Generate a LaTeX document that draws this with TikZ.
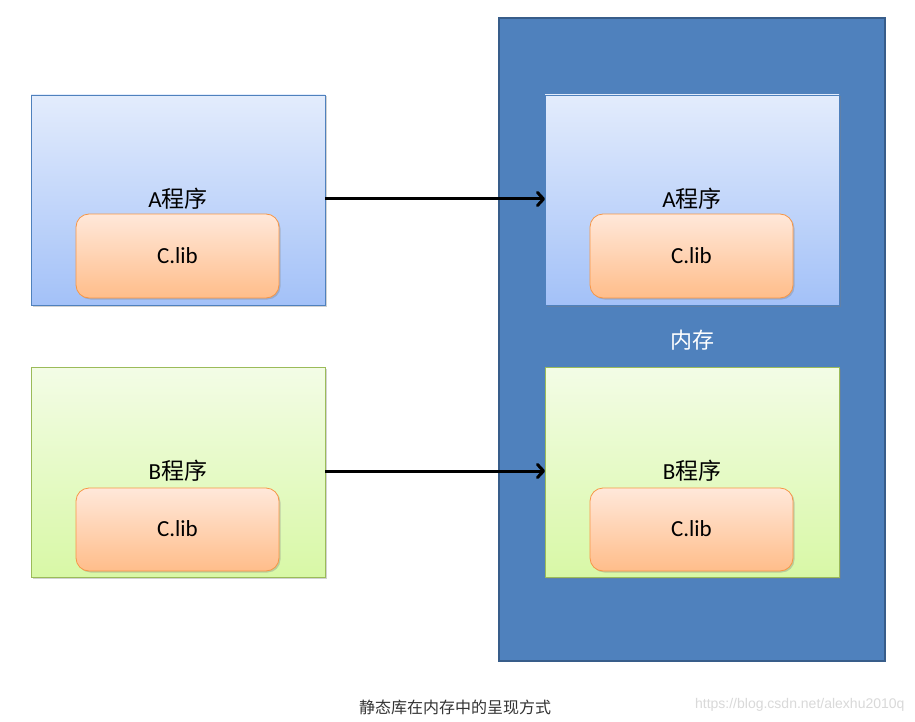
\documentclass[tikz,border=0pt]{standalone}
\usepackage{fontspec}
\setmainfont{Carlito}
\newfontfamily\cjk{Noto Sans CJK SC}
\newfontfamily\wmfont{Liberation Sans}
\usetikzlibrary{arrows.meta,shadows}
\definecolor{memblue}{HTML}{4F81BD}
\definecolor{memedge}{HTML}{385D8A}
\definecolor{atop}{HTML}{E3ECFC}
\definecolor{abot}{HTML}{A3C1F8}
\definecolor{aedge}{HTML}{4F81BD}
\definecolor{btop}{HTML}{F3FCE6}
\definecolor{bbot}{HTML}{D8F8A6}
\definecolor{bedge}{HTML}{9BBB59}
\definecolor{ctop}{HTML}{FFE8DA}
\definecolor{cbot}{HTML}{FFBD8A}
\definecolor{cedge}{HTML}{F79646}
\tikzset{
  x=1pt,y=-1pt,
  progA/.style={draw=aedge,line width=0.8pt,top color=atop,bottom color=abot,
    drop shadow={shadow xshift=1.5pt,shadow yshift=-1.5pt,opacity=0.35}},
  progB/.style={draw=bedge,line width=0.8pt,top color=btop,bottom color=bbot,
    drop shadow={shadow xshift=1.5pt,shadow yshift=-1.5pt,opacity=0.35}},
  libbox/.style={draw=cedge,line width=0.8pt,rounded corners=13pt,top color=ctop,bottom color=cbot,
    drop shadow={shadow xshift=1.5pt,shadow yshift=-1.5pt,opacity=0.35}},
  lbl/.style={font=\fontsize{23}{27}\selectfont},
  conn/.style={line width=3pt,-{Straight Barb[length=6pt,width=13pt,line cap=round,line join=round]}},
}
\begin{document}
\begin{tikzpicture}
\useasboundingbox (0,0) rectangle (915,722);
\fill[white] (0,0) rectangle (915,722);
% memory
\draw[fill=memblue,draw=memedge,line width=1.5pt] (499,18) rectangle (885,661);
\node[text=white,font=\cjk\fontsize{22}{26}\selectfont] (mem) at (692,340) {内存};
% left A
\path[progA] (31,95) rectangle (325,305);
\coordinate (la) at (325,199);
\node[lbl] (labelA) at (178,199) {A{\cjk 程序}};
\path[libbox] (76,214) rectangle (279,298);
\node[lbl] (libA) at (177.5,256) {C.lib};
% left B
\path[progB] (31,367) rectangle (325,577);
\coordinate (lb) at (325,471);
\node[lbl] (labelB) at (178,471) {B{\cjk 程序}};
\path[libbox] (76,488) rectangle (279,571);
\node[lbl] (libB) at (177.5,529) {C.lib};
% right A
\path[progA] (545,95) rectangle (839,305);
\coordinate (ra) at (545,199);
\node[lbl] (labelRA) at (692,199) {A{\cjk 程序}};
\path[libbox] (590,214) rectangle (793,298);
\node[lbl] (libRA) at (691.5,256) {C.lib};
% right B
\path[progB] (545,367) rectangle (839,577);
\coordinate (rb) at (545,471);
\node[lbl] (labelRB) at (692,471) {B{\cjk 程序}};
\path[libbox] (590,488) rectangle (793,571);
\node[lbl] (libRB) at (691.5,529) {C.lib};
% arrows
\draw[conn] (la) -- (ra);
\draw[conn] (lb) -- (rb);
% caption
\node[font=\cjk\fontsize{16}{18}\selectfont,text=black!80] (cap) at (455,707) {静态库在内存中的呈现方式};
\node[font=\wmfont\fontsize{14}{16}\selectfont,text=black!15,anchor=east] (wm) at (908,705) {https://blog.csdn.net/alexhu2010q};
\end{tikzpicture}
\end{document}
